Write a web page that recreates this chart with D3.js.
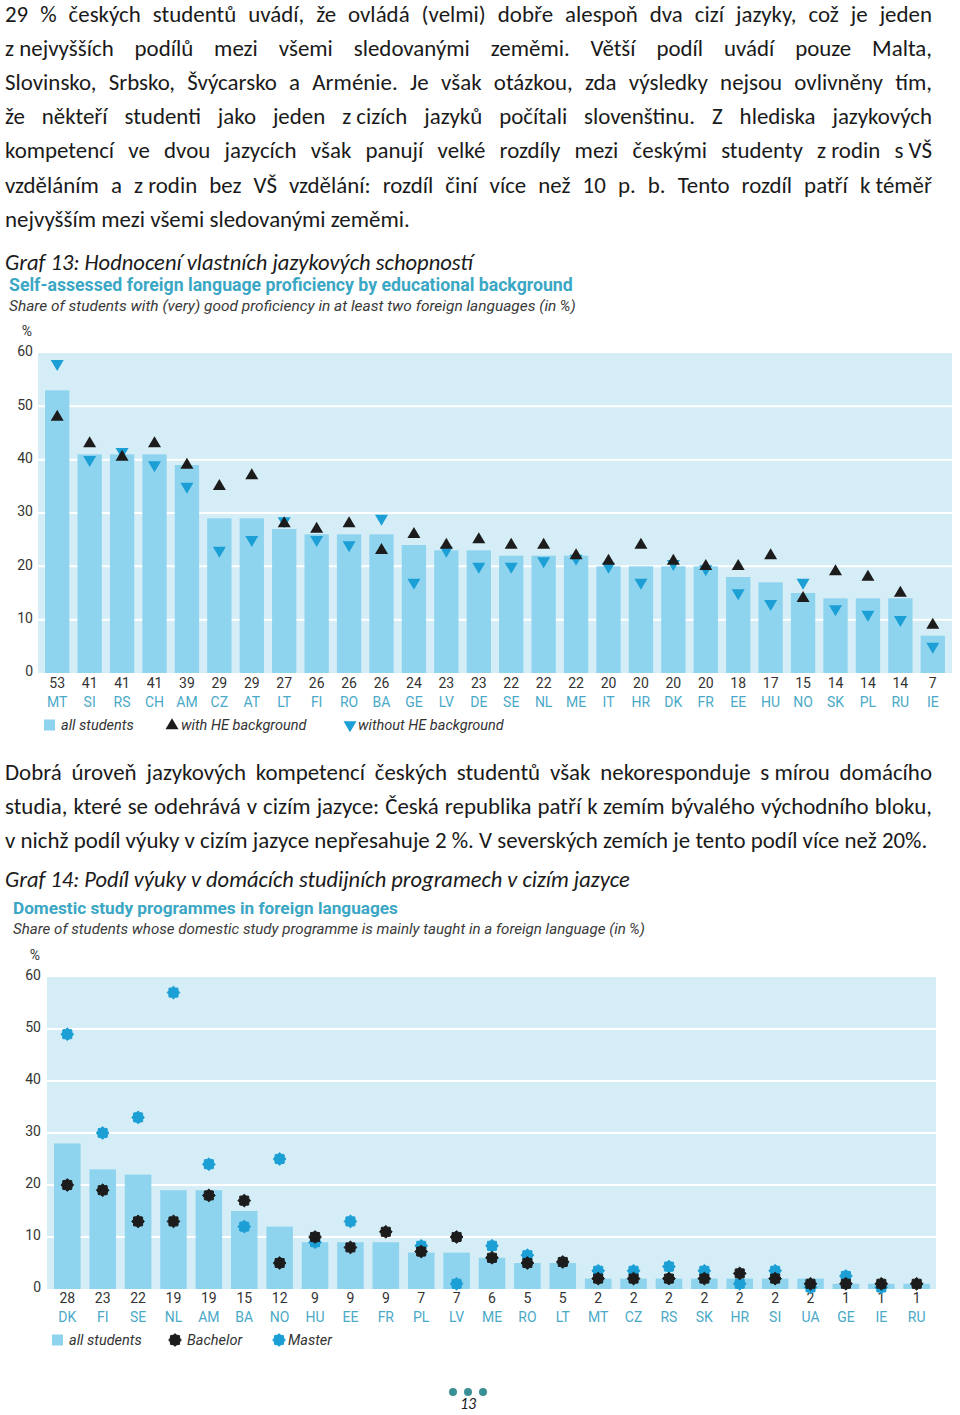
<!DOCTYPE html>
<html><head><meta charset="utf-8">
<script src="https://cdn.jsdelivr.net/npm/d3@7/dist/d3.min.js"></script>
<style>body{margin:0;background:#fff} svg{display:block}</style>
</head><body>
<svg id="page" width="960" height="1415"></svg>
<script>
// ---------------- DATA ----------------
const para1 = [
  "29 % českých studentů uvádí, že ovládá (velmi) dobře alespoň dva cizí jazyky, což je jeden",
  "z\u00a0nejvyšších podílů mezi všemi sledovanými zeměmi. Větší podíl uvádí pouze Malta,",
  "Slovinsko, Srbsko, Švýcarsko a Arménie. Je však otázkou, zda výsledky nejsou ovlivněny tím,",
  "že někteří studenti jako jeden z\u00a0cizích jazyků počítali slovenštinu. Z hlediska jazykových",
  "kompetencí ve dvou jazycích však panují velké rozdíly mezi českými studenty z\u00a0rodin s\u00a0VŠ",
  "vzděláním a z\u00a0rodin bez VŠ vzdělání: rozdíl činí více než 10 p. b. Tento rozdíl patří k\u00a0téměř",
  "nejvyšším mezi všemi sledovanými zeměmi."
];
const para2 = [
  "Dobrá úroveň jazykových kompetencí českých studentů však nekoresponduje s\u00a0mírou domácího",
  "studia, které se odehrává v cizím jazyce: Česká republika patří k\u00a0zemím bývalého východního bloku,",
  "v\u00a0nichž podíl výuky v cizím jazyce nepřesahuje 2 %. V severských zemích je tento podíl více než 20%."
];
const caption1 = "Graf 13: Hodnocení vlastních jazykových schopností";
const caption2 = "Graf 14: Podíl výuky v domácích studijních programech v cizím jazyce";
const title1 = "Self-assessed foreign language proficiency by educational background";
const subtitle1 = "Share of students with (very) good proficiency in at least two foreign languages (in\u2009%)";
const title2 = "Domestic study programmes in foreign languages";
const subtitle2 = "Share of students whose domestic study programme is mainly taught in a foreign language (in\u2009%)";
const yTicks = [0, 10, 20, 30, 40, 50, 60];
const gridTicks = [10, 20, 30, 40, 50];

// Chart 13
const c1Countries = ["MT","SI","RS","CH","AM","CZ","AT","LT","FI","RO","BA","GE","LV","DE","SE","NL","ME","IT","HR","DK","FR","EE","HU","NO","SK","PL","RU","IE"];
const c1All   = [53,41,41,41,39,29,29,27,26,26,26,24,23,23,22,22,22,20,20,20,20,18,17,15,14,14,14,7];
const c1HE    = [48,43,40.5,43,39,35,37,28,27,28,23,26,24,25,24,24,22,21,24,21,20,20,22,14,19,18,15,9];
const c1NoHE  = [58,40,41.5,39,35,23,25,28.5,25,24,29,17,23,20,20,21,21.5,20,17,20.5,19.5,15,13,17,12,11,10,5];
const c1Legend = ["all students", "with HE background", "without HE background"];

// Chart 14
const c2Countries = ["DK","FI","SE","NL","AM","BA","NO","HU","EE","FR","PL","LV","ME","RO","LT","MT","CZ","RS","SK","HR","SI","UA","GE","IE","RU"];
const c2All      = [28,23,22,19,19,15,12,9,9,9,7,7,6,5,5,2,2,2,2,2,2,2,1,1,1];
const c2Bachelor = [20,19,13,13,18,17,5,10,8,11,7.2,10,6,5,5.2,2,2,2,2,3,2,1,1,1,1];
const c2Master   = [49,30,33,57,24,12,25,9,13,null,8.3,1,8.3,6.5,null,3.5,3.5,4.3,3.5,1,3.5,0.3,2.5,0.3,null];
const c2Legend = ["all students", "Bachelor", "Master"];

const pageNumber = "13";

// ---------------- STYLE ----------------
const bodyFont = "Calibri, Carlito, Lato, 'Open Sans', sans-serif";
const chartFont = "'Franklin Gothic Book', Roboto, 'Liberation Sans', Arial, sans-serif";
const C = {
  panel: "#d4edf6", bar: "#8fd4ef", black: "#1c1c1c", blue: "#1b9fd5",
  title: "#3ba7c5", code: "#4aa9c7", num: "#333333", text: "#1a1a1a", teal: "#3b9096"
};

const svg = d3.select("#page");

function measure(parent, str, attrs) {
  const t = parent.append("text").attr("x", -2000).attr("y", -2000);
  Object.entries(attrs || {}).forEach(([k, v]) => t.attr(k, v));
  t.text(str);
  const w = t.node().getComputedTextLength();
  t.remove();
  return w;
}

function fittedText(parent, str, x, y, targetW, baseSize, attrs) {
  const w = measure(parent, str, Object.assign({"font-size": baseSize}, attrs));
  const fs = baseSize * targetW / w;
  const t = parent.append("text").attr("x", x).attr("y", y).attr("font-size", fs.toFixed(2));
  Object.entries(attrs || {}).forEach(([k, v]) => t.attr(k, v));
  t.text(str);
  return t;
}

// ---------------- PARAGRAPHS ----------------
const pg = svg.append("g").attr("font-family", bodyFont).attr("fill", C.text);
let fs = 20;
{
  const f1 = 908 / measure(pg, para2[2], {"font-size": fs});
  const f2 = 435 / measure(pg, para1[6], {"font-size": fs});
  fs = fs * (f1 + f2) / 2;
  const maxW = d3.max(para1.concat(para2), s => measure(pg, s, {"font-size": fs}));
  if (maxW > 922) fs = fs * 922 / maxW;
}
pg.attr("font-size", fs.toFixed(2));

function justify(g, lines, x, y0, lh, width) {
  lines.forEach((line, i) => {
    const y = y0 + i * lh;
    if (i === lines.length - 1) { g.append("text").attr("x", x).attr("y", y).text(line); return; }
    const words = line.split(" ");
    const ws = words.map(w => measure(g, w));
    const gap = (width - d3.sum(ws)) / (words.length - 1);
    const t = g.append("text").attr("y", y);
    let cx = x;
    words.forEach((w, j) => {
      t.append("tspan").attr("x", cx.toFixed(2)).text(j < words.length - 1 ? w + " " : w);
      cx += ws[j] + gap;
    });
  });
}
justify(pg, para1, 5, 21.5, 34.2, 927);
justify(pg, para2, 5, 780, 34, 927);

fittedText(svg, caption1, 5, 270, 468, 21, {"font-family": bodyFont, "font-style": "italic", fill: C.text});
fittedText(svg, caption2, 5, 887, 625, 21, {"font-family": bodyFont, "font-style": "italic", fill: C.text});

// ---------------- MARKERS ----------------
const triUp = (w, h) => `M0,${-h*2/3}L${w/2},${h/3}L${-w/2},${h/3}Z`;
const triDown = (w, h) => `M0,${h*2/3}L${w/2},${-h/3}L${-w/2},${-h/3}Z`;
function rosette(r) {
  const pts = d3.range(16).map(i => {
    const a = i * Math.PI / 8 - Math.PI / 2;
    const rr = i % 2 === 0 ? r : r * 0.8;
    return [rr * Math.cos(a), rr * Math.sin(a)];
  });
  return "M" + pts.map(p => p[0].toFixed(2) + "," + p[1].toFixed(2)).join("L") + "Z";
}

// ---------------- CHART FUNCTION ----------------
function drawChart(o) {
  const g = svg.append("g").attr("font-family", chartFont);
  const y = d3.scaleLinear().domain([0, 60]).range([o.y0, o.y60]);
  const x = d3.scaleBand().domain(o.countries).range(o.xRange).paddingInner(0.25).paddingOuter(0.125);

  fittedText(g, o.title, o.titleX, o.titleY, o.titleW, 15, {"font-weight": "bold", fill: C.title});
  fittedText(g, o.subtitle, o.titleX, o.titleY + 20, o.subW, 13.5, {"font-style": "italic", fill: "#3a3a3a"});

  g.append("rect").attr("x", o.panelX0).attr("y", y(60)).attr("width", o.panelX1 - o.panelX0)
    .attr("height", y(0) - y(60)).attr("fill", C.panel);
  g.append("g").selectAll("line").data(gridTicks).join("line")
    .attr("x1", o.panelX0).attr("x2", o.panelX1).attr("y1", d => y(d)).attr("y2", d => y(d))
    .attr("stroke", "#fff").attr("stroke-width", 2);

  const ya = g.append("g").attr("transform", `translate(${o.tickRight},0)`)
    .call(d3.axisLeft(y).tickValues(yTicks).tickSize(0).tickPadding(0));
  ya.select(".domain").remove();
  ya.selectAll("text").attr("font-family", chartFont).attr("font-size", 14).attr("fill", C.num).attr("dy", "0.2em");
  g.append("text").attr("x", o.tickRight - 6).attr("y", y(60) - 17).attr("text-anchor", "middle")
    .attr("font-size", 14).attr("fill", C.num).text("%");

  g.append("g").selectAll("rect").data(o.countries).join("rect")
    .attr("x", d => x(d)).attr("width", x.bandwidth())
    .attr("y", (d, i) => y(o.all[i])).attr("height", (d, i) => y(0) - y(o.all[i]))
    .attr("fill", C.bar);

  const xa1 = g.append("g").attr("transform", `translate(0,${o.numY})`)
    .call(d3.axisBottom(x).tickSize(0).tickPadding(0).tickFormat((d, i) => o.all[i]));
  xa1.select(".domain").remove();
  xa1.selectAll("text").attr("y", 0).attr("dy", "0.35em").attr("font-family", chartFont)
    .attr("font-size", 14).attr("fill", C.num);
  const xa2 = g.append("g").attr("transform", `translate(0,${o.codeY})`)
    .call(d3.axisBottom(x).tickSize(0).tickPadding(0));
  xa2.select(".domain").remove();
  xa2.selectAll("text").attr("y", 0).attr("dy", "0.35em").attr("font-family", chartFont)
    .attr("font-size", 14).attr("fill", C.code);

  const cx = d => x(d) + x.bandwidth() / 2;
  o.markers.forEach(m => {
    g.append("g").selectAll("path").data(o.countries.map((c, i) => ({c, v: m.values[i]})).filter(d => d.v != null))
      .join("path").attr("d", m.path)
      .attr("transform", d => `translate(${cx(d.c)},${y(d.v)})`)
      .attr("fill", m.color).attr("stroke", m.stroke ? m.color : "none")
      .attr("stroke-width", m.stroke ? 1 : 0).attr("stroke-linejoin", "round");
  });

  const lg = g.append("g").attr("font-size", 14.5).attr("font-style", "italic").attr("fill", "#333");
  lg.append("rect").attr("x", o.legend[0].sx).attr("y", o.legendY - 5.5).attr("width", 11).attr("height", 11).attr("fill", C.bar);
  o.legend.forEach((l, i) => {
    if (i > 0) {
      const m = o.markers[l.mi];
      lg.append("path").attr("d", m.path).attr("transform", `translate(${l.sx},${o.legendY + (l.dy || 0)})`)
        .attr("fill", m.color).attr("stroke", m.stroke ? m.color : "none");
    }
    lg.append("text").attr("x", l.tx).attr("y", o.legendY).attr("dy", "0.35em").text(l.label);
  });
}

drawChart({
  countries: c1Countries, all: c1All,
  y0: 673, y60: 353, xRange: [41, 949], panelX0: 38, panelX1: 952, tickRight: 33,
  numY: 683, codeY: 702,
  title: title1, subtitle: subtitle1, titleX: 9, titleY: 291, titleW: 564, subW: 567,
  markers: [
    {values: c1NoHE, path: triDown(13, 11), color: C.blue},
    {values: c1HE, path: triUp(13, 11), color: C.black}
  ],
  legendY: 725,
  legend: [
    {sx: 44, tx: 61, label: c1Legend[0]},
    {sx: 172, tx: 181, label: c1Legend[1], mi: 1, dy: 0.5},
    {sx: 350, tx: 358, label: c1Legend[2], mi: 0, dy: 0}
  ]
});

drawChart({
  countries: c2Countries, all: c2All,
  y0: 1289, y60: 977, xRange: [49.6, 934.4], panelX0: 47, panelX1: 936, tickRight: 41,
  numY: 1298.5, codeY: 1317,
  title: title2, subtitle: subtitle2, titleX: 13, titleY: 914, titleW: 385, subW: 632,
  markers: [
    {values: c2Master, path: rosette(6.3), color: C.blue, stroke: true},
    {values: c2Bachelor, path: rosette(6.3), color: C.black, stroke: true}
  ],
  legendY: 1340,
  legend: [
    {sx: 52, tx: 69, label: c2Legend[0]},
    {sx: 175, tx: 187, label: c2Legend[1], mi: 1},
    {sx: 279, tx: 288, label: c2Legend[2], mi: 0}
  ]
});

// ---------------- FOOTER ----------------
svg.append("g").selectAll("circle").data([-15, 0, 15]).join("circle")
  .attr("cx", d => 468 + d).attr("cy", 1392).attr("r", 4).attr("fill", C.teal);
svg.append("text").attr("x", 468).attr("y", 1409).attr("text-anchor", "middle")
  .attr("font-family", bodyFont).attr("font-style", "italic").attr("font-size", 16).attr("fill", C.text).text(pageNumber);
</script>
</body></html>
